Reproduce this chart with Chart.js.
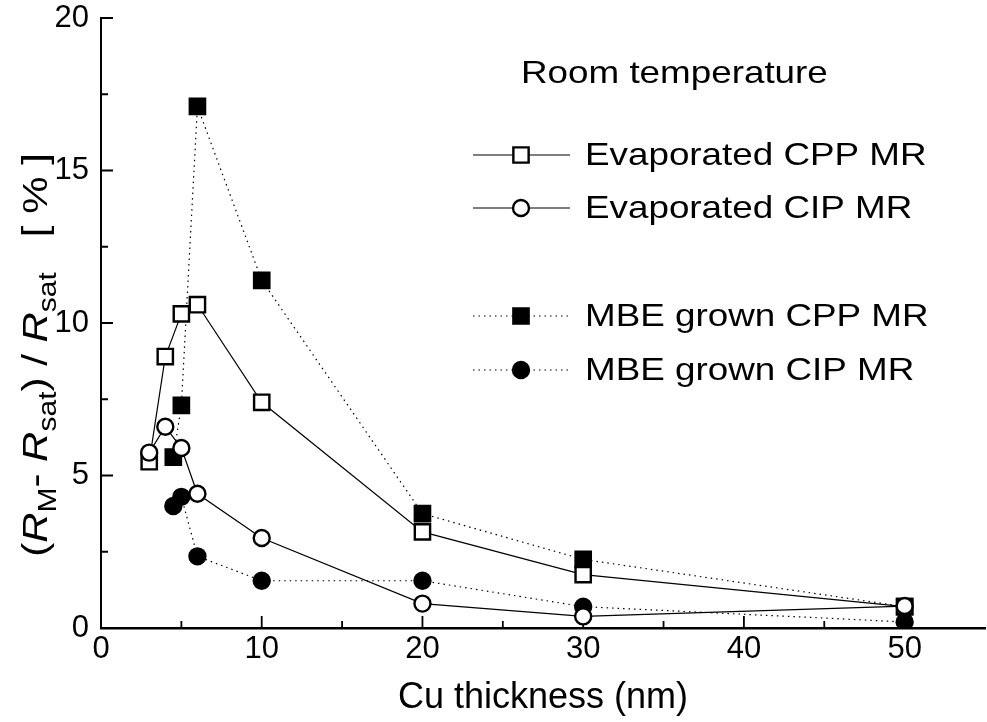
<!DOCTYPE html>
<html>
<head>
<meta charset="utf-8">
<script src="https://cdn.jsdelivr.net/npm/chart.js@4.4.1/dist/chart.umd.min.js"></script>
<style>
  html, body { margin: 0; padding: 0; background: #fff; }
</style>
</head>
<body>
<canvas id="mrChart" width="987" height="722"></canvas>
<script>
// Cu thickness (nm) and MR values (%)
const thickEvapCPP = [3, 4, 5, 6, 10, 20, 30, 50];
const evapCPP      = [5.45, 8.9, 10.3, 10.6, 7.4, 3.15, 1.75, 0.7];
const thickEvapCIP = [3, 4, 5, 6, 10, 20, 30, 50];
const evapCIP      = [5.75, 6.6, 5.9, 4.4, 2.95, 0.8, 0.38, 0.72];
const thickMbeCPP  = [4.5, 5, 6, 10, 20, 30, 50];
const mbeCPP       = [5.6, 7.3, 17.1, 11.4, 3.75, 2.25, 0.7];
const thickMbeCIP  = [4.5, 5, 6, 10, 20, 30, 50];
const mbeCIP       = [4.0, 4.3, 2.35, 1.55, 1.55, 0.7, 0.2];

const seriesNames = ["Evaporated CPP MR", "Evaporated CIP MR", "MBE grown CPP MR", "MBE grown CIP MR"];
const xTicks = [0, 10, 20, 30, 40, 50];
const yTicks = [0, 5, 10, 15, 20];

const fontFam = '"Liberation Sans", Arial, Helvetica, sans-serif';
const dotted = [1.5, 4];

function toPts(xs, ys) {
  return xs.map(function (x, i) { return { x: x, y: ys[i] }; });
}

function series(name, xs, ys, style, filled, dash, order) {
  return {
    label: name,
    data: toPts(xs, ys),
    order: order,
    borderColor: '#000',
    borderWidth: 1.2,
    borderDash: dash,
    pointStyle: style,
    pointRadius: style === 'rect' ? 10.8 : 8,
    pointBorderWidth: 2.4,
    pointBorderColor: '#000',
    pointBackgroundColor: filled ? '#000' : '#fff',
    tension: 0
  };
}

// inward tick marks, major and minor
const tickMarks = {
  id: 'tickMarks',
  beforeDatasetsDraw(chart) {
    const { ctx, chartArea: a, scales: { x, y } } = chart;
    ctx.save();
    ctx.strokeStyle = '#000';
    ctx.lineWidth = 1.8;
    ctx.beginPath();
    for (let v = 5; v <= 50; v += 5) {
      const px = x.getPixelForValue(v);
      const len = v % 10 === 0 ? 12 : 7;
      ctx.moveTo(px, a.bottom);
      ctx.lineTo(px, a.bottom - len);
    }
    for (let v = 2.5; v <= 20; v += 2.5) {
      const py = y.getPixelForValue(v);
      const len = v % 5 === 0 ? 12 : 7;
      ctx.moveTo(a.left, py);
      ctx.lineTo(a.left + len, py);
    }
    ctx.stroke();
    ctx.restore();
  }
};

function drawMarker(ctx, ds, cx, cy) {
  ctx.beginPath();
  if (ds.pointStyle === 'rect') {
    const s = Math.SQRT1_2 * ds.pointRadius;
    ctx.rect(cx - s, cy - s, 2 * s, 2 * s);
  } else {
    ctx.arc(cx, cy, ds.pointRadius, 0, Math.PI * 2);
  }
  ctx.fillStyle = ds.pointBackgroundColor;
  ctx.fill();
  ctx.lineWidth = ds.pointBorderWidth;
  ctx.strokeStyle = '#000';
  ctx.stroke();
}

function stretchedText(ctx, txt, x, y, sx) {
  ctx.save();
  ctx.translate(x, y);
  ctx.scale(sx, 1);
  ctx.fillText(txt, 0, 0);
  ctx.restore();
}

// legend block with the "Room temperature" heading
const mrLegend = {
  id: 'mrLegend',
  afterDraw(chart) {
    const ctx = chart.ctx;
    const rows = [155, 208, 316, 370];
    ctx.save();
    ctx.fillStyle = '#000';
    ctx.font = '32px ' + fontFam;
    ctx.textBaseline = 'middle';
    stretchedText(ctx, 'Room temperature', 521, 74, 1.15);
    chart.data.datasets.forEach(function (ds, i) {
      const yy = rows[i];
      ctx.save();
      ctx.strokeStyle = '#000';
      ctx.lineWidth = 1.2;
      ctx.setLineDash(ds.borderDash);
      ctx.beginPath();
      ctx.moveTo(473, yy);
      ctx.lineTo(570, yy);
      ctx.stroke();
      ctx.setLineDash([]);
      drawMarker(ctx, ds, 521, yy);
      ctx.restore();
      ctx.fillStyle = '#000';
      stretchedText(ctx, ds.label, 585, yy + 1, 1.15);
    });
    ctx.restore();
  }
};

// rotated y title with italic R and subscripts
const yTitle = {
  id: 'yTitle',
  afterDraw(chart) {
    const ctx = chart.ctx;
    const size = 35, sub = 25;
    const parts = [
      ['(', 'n'], ['R', 'i'], ['M', 's'], ['- ', 'n'], ['R', 'i'], ['sat', 's'],
      [') / ', 'n'], ['R', 'i'], ['sat', 's'], ['   [ ', 'n'], ['%', 'n'], [' ]', 'n']
    ];
    function fontFor(k) {
      if (k === 'i') return 'italic ' + size + 'px ' + fontFam;
      if (k === 's') return sub + 'px ' + fontFam;
      return size + 'px ' + fontFam;
    }
    let total = 0;
    parts.forEach(function (p) { ctx.font = fontFor(p[1]); total += ctx.measureText(p[0]).width; });
    const sx = 1.2;
    ctx.save();
    ctx.translate(47, 355);
    ctx.rotate(-Math.PI / 2);
    ctx.scale(sx, 1);
    ctx.fillStyle = '#000';
    ctx.textBaseline = 'alphabetic';
    let cur = -total / 2;
    parts.forEach(function (p) {
      ctx.font = fontFor(p[1]);
      ctx.fillText(p[0], cur, p[1] === 's' ? 9 : 0);
      cur += ctx.measureText(p[0]).width;
    });
    ctx.restore();
  }
};

function noEdgePad(scale) {
  scale.paddingLeft = 0;
  scale.paddingRight = 0;
  scale.paddingTop = 0;
  scale.paddingBottom = 0;
}

const ctx = document.getElementById('mrChart');
new Chart(ctx, {
  type: 'line',
  data: {
    datasets: [
      series(seriesNames[0], thickEvapCPP, evapCPP, 'rect', false, [], 1),
      series(seriesNames[1], thickEvapCIP, evapCIP, 'circle', false, [], 0),
      series(seriesNames[2], thickMbeCPP, mbeCPP, 'rect', true, dotted, 2),
      series(seriesNames[3], thickMbeCIP, mbeCIP, 'circle', true, dotted, 3)
    ]
  },
  options: {
    responsive: false,
    animation: false,
    devicePixelRatio: 1,
    layout: { autoPadding: false, padding: { top: 18, right: 2, left: 0, bottom: 0 } },
    plugins: { legend: { display: false }, tooltip: { enabled: false } },
    scales: {
      x: {
        type: 'linear',
        min: 0,
        max: 55,
        afterBuildTicks: function (scale) { scale.ticks = xTicks.map(function (v) { return { value: v }; }); },
        afterFit: function (scale) { scale.height = 94; noEdgePad(scale); },
        ticks: { color: '#000', font: { family: fontFam, size: 31 }, padding: 3, maxRotation: 0 },
        grid: { display: false, drawTicks: false },
        border: { display: true, color: '#000', width: 2.5 },
        title: { display: true, text: 'Cu thickness (nm)', color: '#000', font: { family: fontFam, size: 36 }, padding: { top: 0, bottom: 2 } }
      },
      y: {
        type: 'linear',
        min: 0,
        max: 20,
        afterBuildTicks: function (scale) { scale.ticks = yTicks.map(function (v) { return { value: v }; }); },
        afterFit: function (scale) { scale.width = 101; noEdgePad(scale); },
        ticks: { color: '#000', font: { family: fontFam, size: 31 }, padding: 12 },
        grid: { display: false, drawTicks: false },
        border: { display: true, color: '#000', width: 2 }
      }
    }
  },
  plugins: [tickMarks, mrLegend, yTitle]
});
</script>
</body>
</html>
